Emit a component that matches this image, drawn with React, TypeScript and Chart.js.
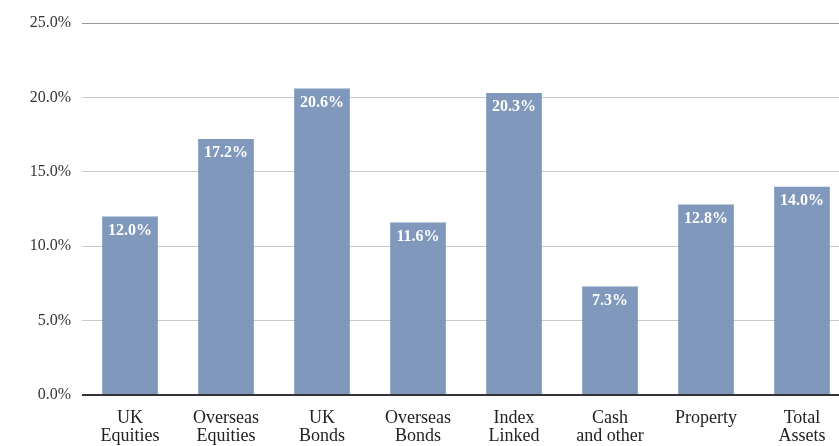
import React, { useEffect, useRef } from "react";
import { Chart, registerables } from "chart.js";

Chart.register(...registerables);

const categories: string[][] = [
  ["UK", "Equities"],
  ["Overseas", "Equities"],
  ["UK", "Bonds"],
  ["Overseas", "Bonds"],
  ["Index", "Linked"],
  ["Cash", "and other"],
  ["Property"],
  ["Total", "Assets"],
];
const returns: number[] = [12.0, 17.2, 20.6, 11.6, 20.3, 7.3, 12.8, 14.0];
const yTicks: number[] = [0, 5, 10, 15, 20, 25];

const SERIF = "'Liberation Serif', 'DejaVu Serif', serif";

const valueLabels = {
  id: "valueLabels",
  afterDatasetsDraw(chart: any) {
    const ctx = chart.ctx;
    const meta = chart.getDatasetMeta(0);
    ctx.save();
    ctx.fillStyle = "#ffffff";
    ctx.font = `bold 16px ${SERIF}`;
    ctx.textAlign = "center";
    ctx.textBaseline = "middle";
    meta.data.forEach((bar: any, i: number) => {
      ctx.fillText(returns[i].toFixed(1) + "%", bar.x, bar.y + 14);
    });
    ctx.restore();
  },
};

export default function App() {
  const ref = useRef<HTMLCanvasElement | null>(null);
  useEffect(() => {
    if (!ref.current) return;
    const chart = new Chart(ref.current, {
      type: "bar",
      data: {
        labels: categories,
        datasets: [
          {
            data: returns,
            backgroundColor: "#7f98bc",
            borderWidth: 0,
            barPercentage: 0.58,
            categoryPercentage: 1,
          },
        ],
      },
      plugins: [valueLabels],
      options: {
        animation: false,
        responsive: true,
        maintainAspectRatio: false,
        layout: { padding: { top: 23, right: 0, left: 0, bottom: 0 } },
        plugins: {
          legend: { display: false },
          tooltip: { enabled: false },
        },
        scales: {
          x: {
            grid: { display: false, drawTicks: false },
            border: { display: false },
            ticks: {
              color: "#222",
              font: { family: SERIF, size: 18, lineHeight: 1.0 },
              padding: 14,
              maxRotation: 0,
              autoSkip: false,
            },
            afterFit: (scale: any) => {
              scale.height = 51;
            },
          },
          y: {
            min: 0,
            max: 25,
            afterBuildTicks: (scale: any) => {
              scale.ticks = yTicks.map((v) => ({ value: v }));
            },
            grid: {
              drawTicks: false,
              color: (c: any) =>
                c.tick && c.tick.value === 0
                  ? "#333333"
                  : c.tick && c.tick.value === 25
                  ? "#999999"
                  : "#c8c8c8",
              lineWidth: (c: any) => (c.tick && c.tick.value === 0 ? 2 : 1),
            },
            border: { display: false },
            ticks: {
              color: "#333",
              padding: 11,
              font: { family: SERIF, size: 16 },
              callback: (v: any) => Number(v).toFixed(1) + "%",
            },
            afterFit: (scale: any) => {
              scale.width = 82;
            },
          },
        },
      },
    });
    return () => chart.destroy();
  }, []);
  return (
    <div
      style={{
        position: "fixed",
        left: 0,
        top: 0,
        width: 839,
        height: 446,
        overflow: "hidden",
        background: "#fff",
      }}
    >
      <div style={{ position: "relative", width: 850, height: 446 }}>
        <canvas ref={ref} />
      </div>
    </div>
  );
}
